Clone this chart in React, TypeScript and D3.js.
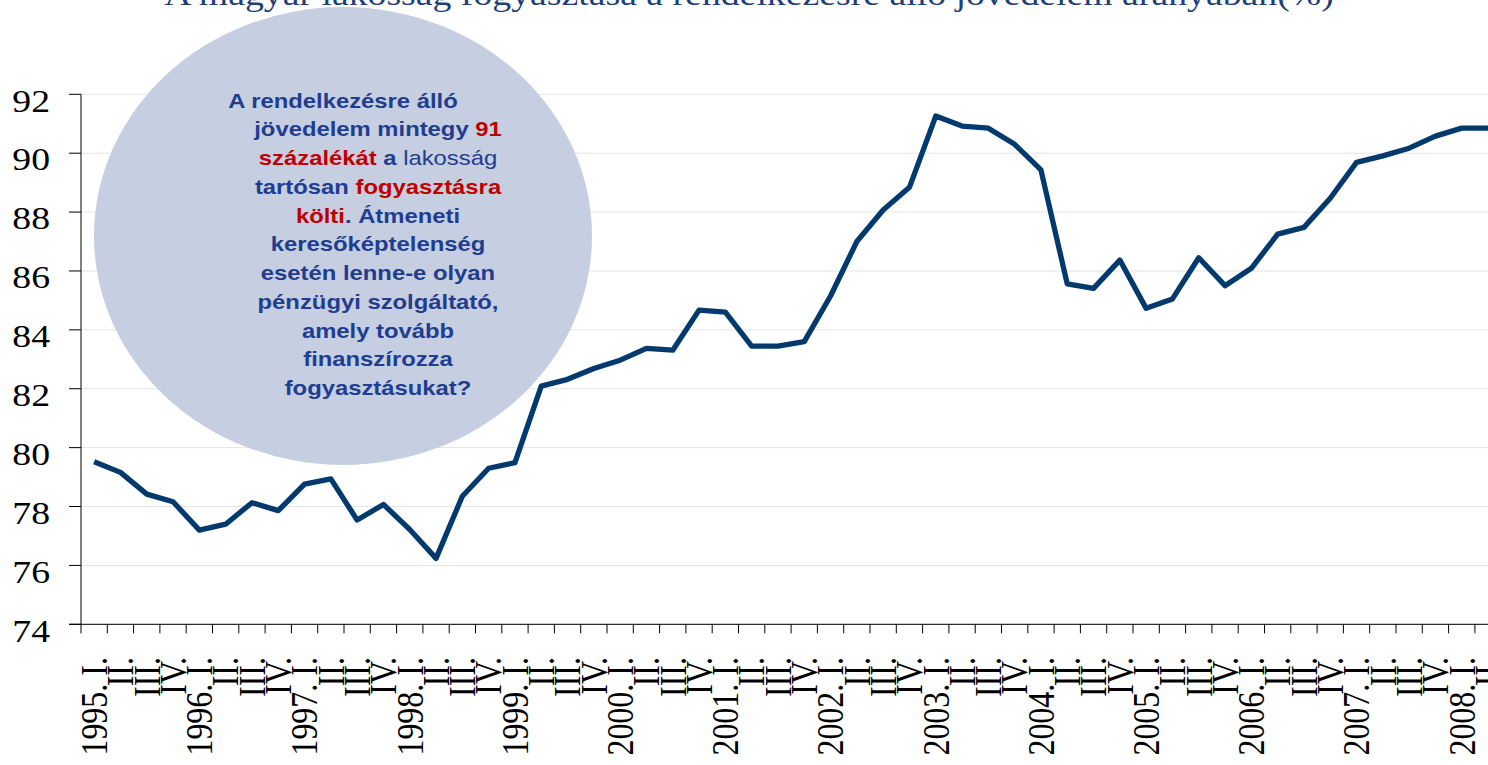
import React from "react";
import * as d3 from "d3";

const years = ["1995", "1996", "1997", "1998", "1999", "2000", "2001", "2002", "2003", "2004", "2005", "2006", "2007", "2008"];
const quarters = ["I.", "II.", "III.", "IV."];
const values = [
  79.52, 79.16, 78.42, 78.16, 77.2, 77.4, 78.13, 77.86, 78.76, 78.94,
  77.54, 78.07, 77.22, 76.24, 78.35, 79.3, 79.49, 82.09, 82.32, 82.69,
  82.97, 83.37, 83.31, 84.67, 84.6, 83.45, 83.45, 83.6, 85.15, 87.0,
  88.07, 88.84, 91.26, 90.92, 90.85, 90.3, 89.43, 85.56, 85.41, 86.37,
  84.73, 85.05, 86.45, 85.5, 86.09, 87.25, 87.48, 88.47, 89.69, 89.91,
  90.17, 90.58, 90.85, 90.85,
];
const yTicks = [74, 76, 78, 80, 82, 84, 86, 88, 90, 92];
const title = "A magyar lakosság fogyasztása a rendelkezésre álló jövedelem arányában(%)";

type Seg = { t: string; red?: boolean; normal?: boolean };
const noteLines: Seg[][] = [
  [{ t: "A rendelkezésre álló" }],
  [{ t: "jövedelem mintegy " }, { t: "91", red: true }],
  [{ t: "százalékát", red: true }, { t: " a" }, { t: " lakosság", normal: true }],
  [{ t: "tartósan " }, { t: "fogyasztásra", red: true }],
  [{ t: "költi", red: true }, { t: ". Átmeneti" }],
  [{ t: "keresőképtelenség" }],
  [{ t: "esetén lenne-e olyan" }],
  [{ t: "pénzügyi szolgáltató," }],
  [{ t: "amely tovább" }],
  [{ t: "finanszírozza" }],
  [{ t: "fogyasztásukat?" }],
];

const labels: string[] = [];
years.forEach((yr) => quarters.forEach((q, i) => labels.push(i === 0 ? `${yr}. ${q}` : q)));
const cats = labels.slice(0, values.length);

const SX = 1.18;
const serif = "'Liberation Serif', 'Times New Roman', serif";
const sans = "'Liberation Sans', Arial, sans-serif";

export default function App() {
  const x0 = 81;
  const step = 26.3;
  const x = d3.scaleBand<string>().domain(cats.map((c, i) => i + "|" + c)).range([x0, x0 + step * cats.length]).padding(0);
  const keys = cats.map((c, i) => i + "|" + c);
  const bw = x.bandwidth();
  const y = d3.scaleLinear().domain([74, 92]).range([624.3, 94.3]);
  const line = d3
    .line<number>()
    .x((_, i) => (x(keys[i]) as number) + bw / 2)
    .y((d) => y(d));

  return (
    <svg
      width={1488}
      height={765}
      style={{ position: "absolute", left: 0, top: 0, display: "block", background: "#fff" }}
    >
      {/* title */}
      <g transform={`translate(749,5) scale(${SX},1)`}>
        <text textAnchor="middle" fontFamily={serif} fontSize={32} fill="#1F3F78">
          {title}
        </text>
      </g>

      {/* gridlines */}
      {yTicks.map((t) => (
        <line key={"g" + t} x1={x0} x2={1488} y1={y(t)} y2={y(t)} stroke="#E4E4E4" strokeWidth={1} />
      ))}

      {/* ellipse */}
      <ellipse cx={343} cy={236} rx={249} ry={229} fill="#C6CEE1" />

      {/* note text */}
      {noteLines.map((segs, i) => (
        <g key={"n" + i} transform={`translate(${i === 0 ? 343 : 378},${107.7 + i * 28.73}) scale(${SX},1)`}>
          <text textAnchor="middle" fontFamily={sans} fontSize={20.2} fontWeight="bold" fill="#213D8F">
            {segs.map((s, j) => (
              <tspan key={j} fill={s.red ? "#C00000" : "#213D8F"} fontWeight={s.normal ? "normal" : "bold"}>
                {s.t}
              </tspan>
            ))}
          </text>
        </g>
      ))}

      {/* axes */}
      <line x1={x0} x2={x0} y1={y(92)} y2={y(74)} stroke="#000" strokeWidth={1} />
      <line x1={69} x2={1488} y1={y(74)} y2={y(74)} stroke="#000" strokeWidth={1} />
      {yTicks.map((t) => (
        <g key={"yt" + t}>
          <line x1={69} x2={x0} y1={y(t)} y2={y(t)} stroke="#000" strokeWidth={1} />
          <g transform={`translate(50,${y(t) + 17.3}) scale(${SX},1)`}>
            <text textAnchor="end" fontFamily={serif} fontSize={32} fill="#000">
              {t}
            </text>
          </g>
        </g>
      ))}
      {keys.map((k, i) => (
        <line
          key={"xt" + i}
          x1={x(k) as number}
          x2={x(k) as number}
          y1={y(74)}
          y2={y(74) + 9}
          stroke="#000"
          strokeWidth={1}
        />
      ))}
      {keys.map((k, i) => (
        <g key={"xl" + i} transform={`translate(${(x(k) as number) + bw / 2},657) scale(${SX},1) rotate(-90)`}>
          <text textAnchor="end" dy="0.34em" fontFamily={serif} fontSize={32} fill="#000">
            {cats[i]}
          </text>
        </g>
      ))}

      {/* data line */}
      <path d={line(values) || ""} fill="none" stroke="#023A6E" strokeWidth={5.3} strokeLinejoin="round" />
    </svg>
  );
}
